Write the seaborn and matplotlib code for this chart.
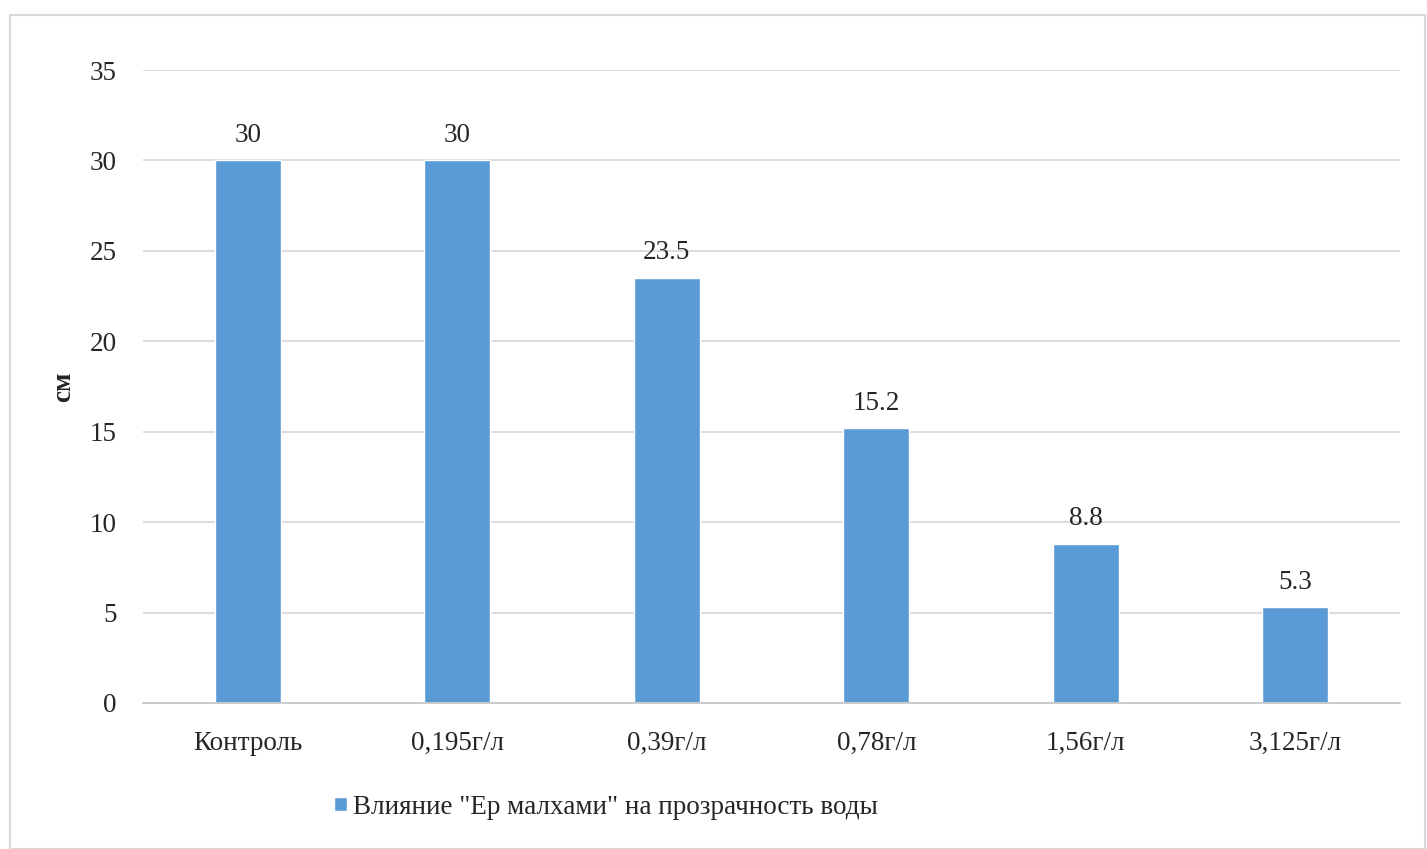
import matplotlib
matplotlib.use("Agg")
import matplotlib.pyplot as plt
import seaborn as sns
import pandas as pd
from matplotlib.patches import Rectangle

categories = ["Контроль", "0,195г/л", "0,39г/л", "0,78г/л", "1,56г/л", "3,125г/л"]
values = [30, 30, 23.5, 15.2, 8.8, 5.3]
value_labels = ["30", "30", "23.5", "15.2", "8.8", "5.3"]
series_name = 'Влияние "Ер малхами" на прозрачность воды'
y_ticks = [0, 5, 10, 15, 20, 25, 30, 35]

sns.set_theme(style="white")
plt.rcParams["font.family"] = ["Liberation Serif", "DejaVu Serif"]

df = pd.DataFrame({"cat": categories, "val": values, "series": series_name})

fig = plt.figure(figsize=(14.27, 8.49), dpi=100)
fig.patch.set_facecolor("white")
fig.patches.append(Rectangle((10/1427, 0), 1415/1427, 1 - 15/849, transform=fig.transFigure,
                             fill=False, edgecolor="#d9d9d9", linewidth=1.5))
ax = fig.add_axes([143/1427, 1 - 703/849, (1400-143)/1427, (703-70)/849])

color = "#5b9bd5"
txt = "#262626"
fs = 19.5
sns.barplot(data=df, x="cat", y="val", hue="series", palette=[color], width=0.314,
            ax=ax, saturation=1, legend=True)

ax.set_ylim(0, 35)
ax.set_xlim(-0.5, 5.5)
ax.set_yticks(y_ticks)
ax.set_yticklabels([str(t) for t in y_ticks])
ax.yaxis.grid(True, color="#d9d9d9", linewidth=1.3)
ax.set_axisbelow(True)
for s in ["top", "right", "left"]:
    ax.spines[s].set_visible(False)
ax.spines["bottom"].set_color("#c8c8c8")
ax.spines["bottom"].set_linewidth(1.3)
ax.tick_params(axis="both", length=0, labelsize=fs, colors=txt)
ax.tick_params(axis="x", pad=20)
ax.tick_params(axis="y", pad=19)
ax.set_xlabel("")
ax.set_ylabel("см", fontsize=fs, fontweight="bold", color=txt)
ax.yaxis.set_label_coords(-0.053, 0.5)

for cont in ax.containers:
    ax.bar_label(cont, labels=value_labels, padding=9, fontsize=fs, color=txt)

leg = ax.legend(loc="center left", bbox_to_anchor=(310/1427, 1 - 807/849), bbox_transform=fig.transFigure,
                frameon=False, fontsize=fs, handlelength=0.45, handleheight=0.45, handletextpad=0.25)
for t in leg.get_texts():
    t.set_color(txt)

fig.savefig("out.png", dpi=100, facecolor="white")
